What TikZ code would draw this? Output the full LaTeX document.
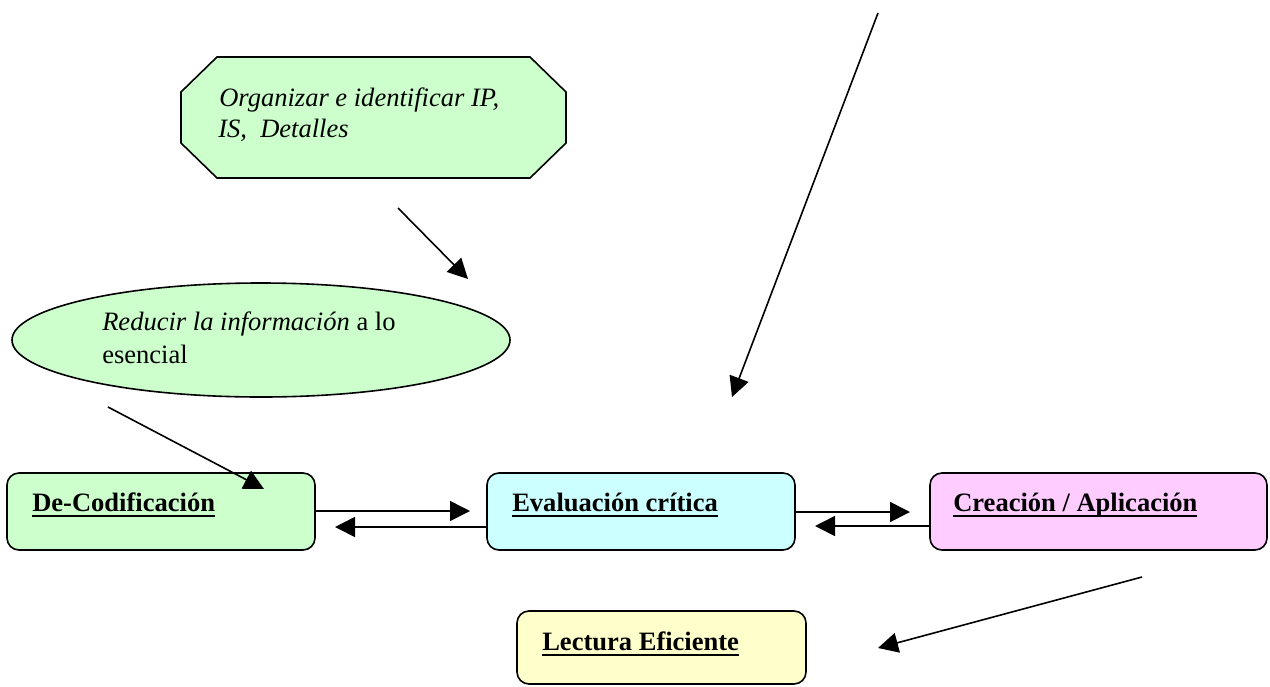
\documentclass[tikz,border=0pt]{standalone}
\usepackage{fontspec}
\setmainfont{Liberation Serif}
\usetikzlibrary{arrows.meta,shapes.geometric}

\definecolor{paleGreen}{HTML}{CCFFCC}
\definecolor{paleCyan}{HTML}{CCFFFF}
\definecolor{palePink}{HTML}{FFCCFF}
\definecolor{paleYellow}{HTML}{FFFFCC}

% bold word with a heavy underline, as in the stage boxes
\newcommand{\stagetitle}[1]{\setbox0\hbox{\bfseries #1}\rlap{\rule[-4.6pt]{\wd0}{1.6pt}}\box0}

\tikzset{
  stagebox/.style={draw=black, line width=1.2pt, rounded corners=9pt, inner sep=0pt},
  txt/.style={anchor=base west, inner sep=0pt, font=\fontsize{19.9pt}{23.5pt}\selectfont},
  link/.style={line width=1.2pt, -{Triangle[length=15pt,width=15pt]}},
}

\begin{document}
\begin{tikzpicture}[x=0.75pt,y=-0.75pt]
\useasboundingbox (0,0) rectangle (1270,686);

% note shapes
\draw[line width=1.2pt, fill=paleGreen]
  (217,57) -- (530,57) -- (566,92) -- (566,143) -- (530,178)
  -- (217,178) -- (181,143) -- (181,92) -- cycle;
\node[txt] (orgA) at (219,106) {\itshape Organizar e identificar IP,};
\node[txt] (orgB) at (218,137) {\itshape IS,\ \ Detalles};

\node[ellipse, draw=black, line width=1.2pt, fill=paleGreen, inner sep=0pt,
      minimum width=373.5pt, minimum height=85.5pt] (reduce) at (261,340) {};
\node[txt] (redA) at (102,330) {\itshape Reducir la información\/\upshape{} a lo};
\node[txt] (redB) at (102,363) {esencial};

% stage boxes
\node[stagebox, fill=paleGreen, minimum width=231pt, minimum height=57.75pt] (deco) at (161,511.5) {};
\node[stagebox, fill=paleCyan, minimum width=231pt, minimum height=57.75pt] (eval) at (641,511.5) {};
\node[stagebox, fill=palePink, minimum width=252.75pt, minimum height=57.75pt] (crea) at (1098.5,511.5) {};
\node[stagebox, fill=paleYellow, minimum width=216.75pt, minimum height=54.75pt] (lect) at (661.5,647.5) {};

\node[txt] (decoT) at (32,511) {\stagetitle{De-Codificación}};
\node[txt] (evalT) at (512,511) {\stagetitle{Evaluación crítica}};
\node[txt] (creaT) at (953,511) {\stagetitle{Creación / Aplicación}};
\node[txt] (lectT) at (542,650) {\stagetitle{Lectura Eficiente}};

% free ends of the connectors
\coordinate (topS) at (878,13);
\coordinate (topE) at (732,397);
\coordinate (orgS) at (398,208);
\coordinate (orgE) at (468,279);
\coordinate (redS) at (108,407);
\coordinate (redE) at (264,489);
\coordinate (d2e) at (470,511);
\coordinate (e2d) at (335,527);
\coordinate (e2c) at (910,512);
\coordinate (c2e) at (815,526);
\coordinate (crS) at (1142,577);
\coordinate (crE) at (878,648);

% connectors
\draw[link] (topS) -- (topE);
\draw[link] (orgS) -- (orgE);
\draw[link] (redS) -- (redE);
\draw[link] (deco.east |- d2e) -- (d2e);
\draw[link] (eval.west |- e2d) -- (e2d);
\draw[link] (eval.east |- e2c) -- (e2c);
\draw[link] (crea.west |- c2e) -- (c2e);
\draw[link] (crS) -- (crE);
\end{tikzpicture}
\end{document}
